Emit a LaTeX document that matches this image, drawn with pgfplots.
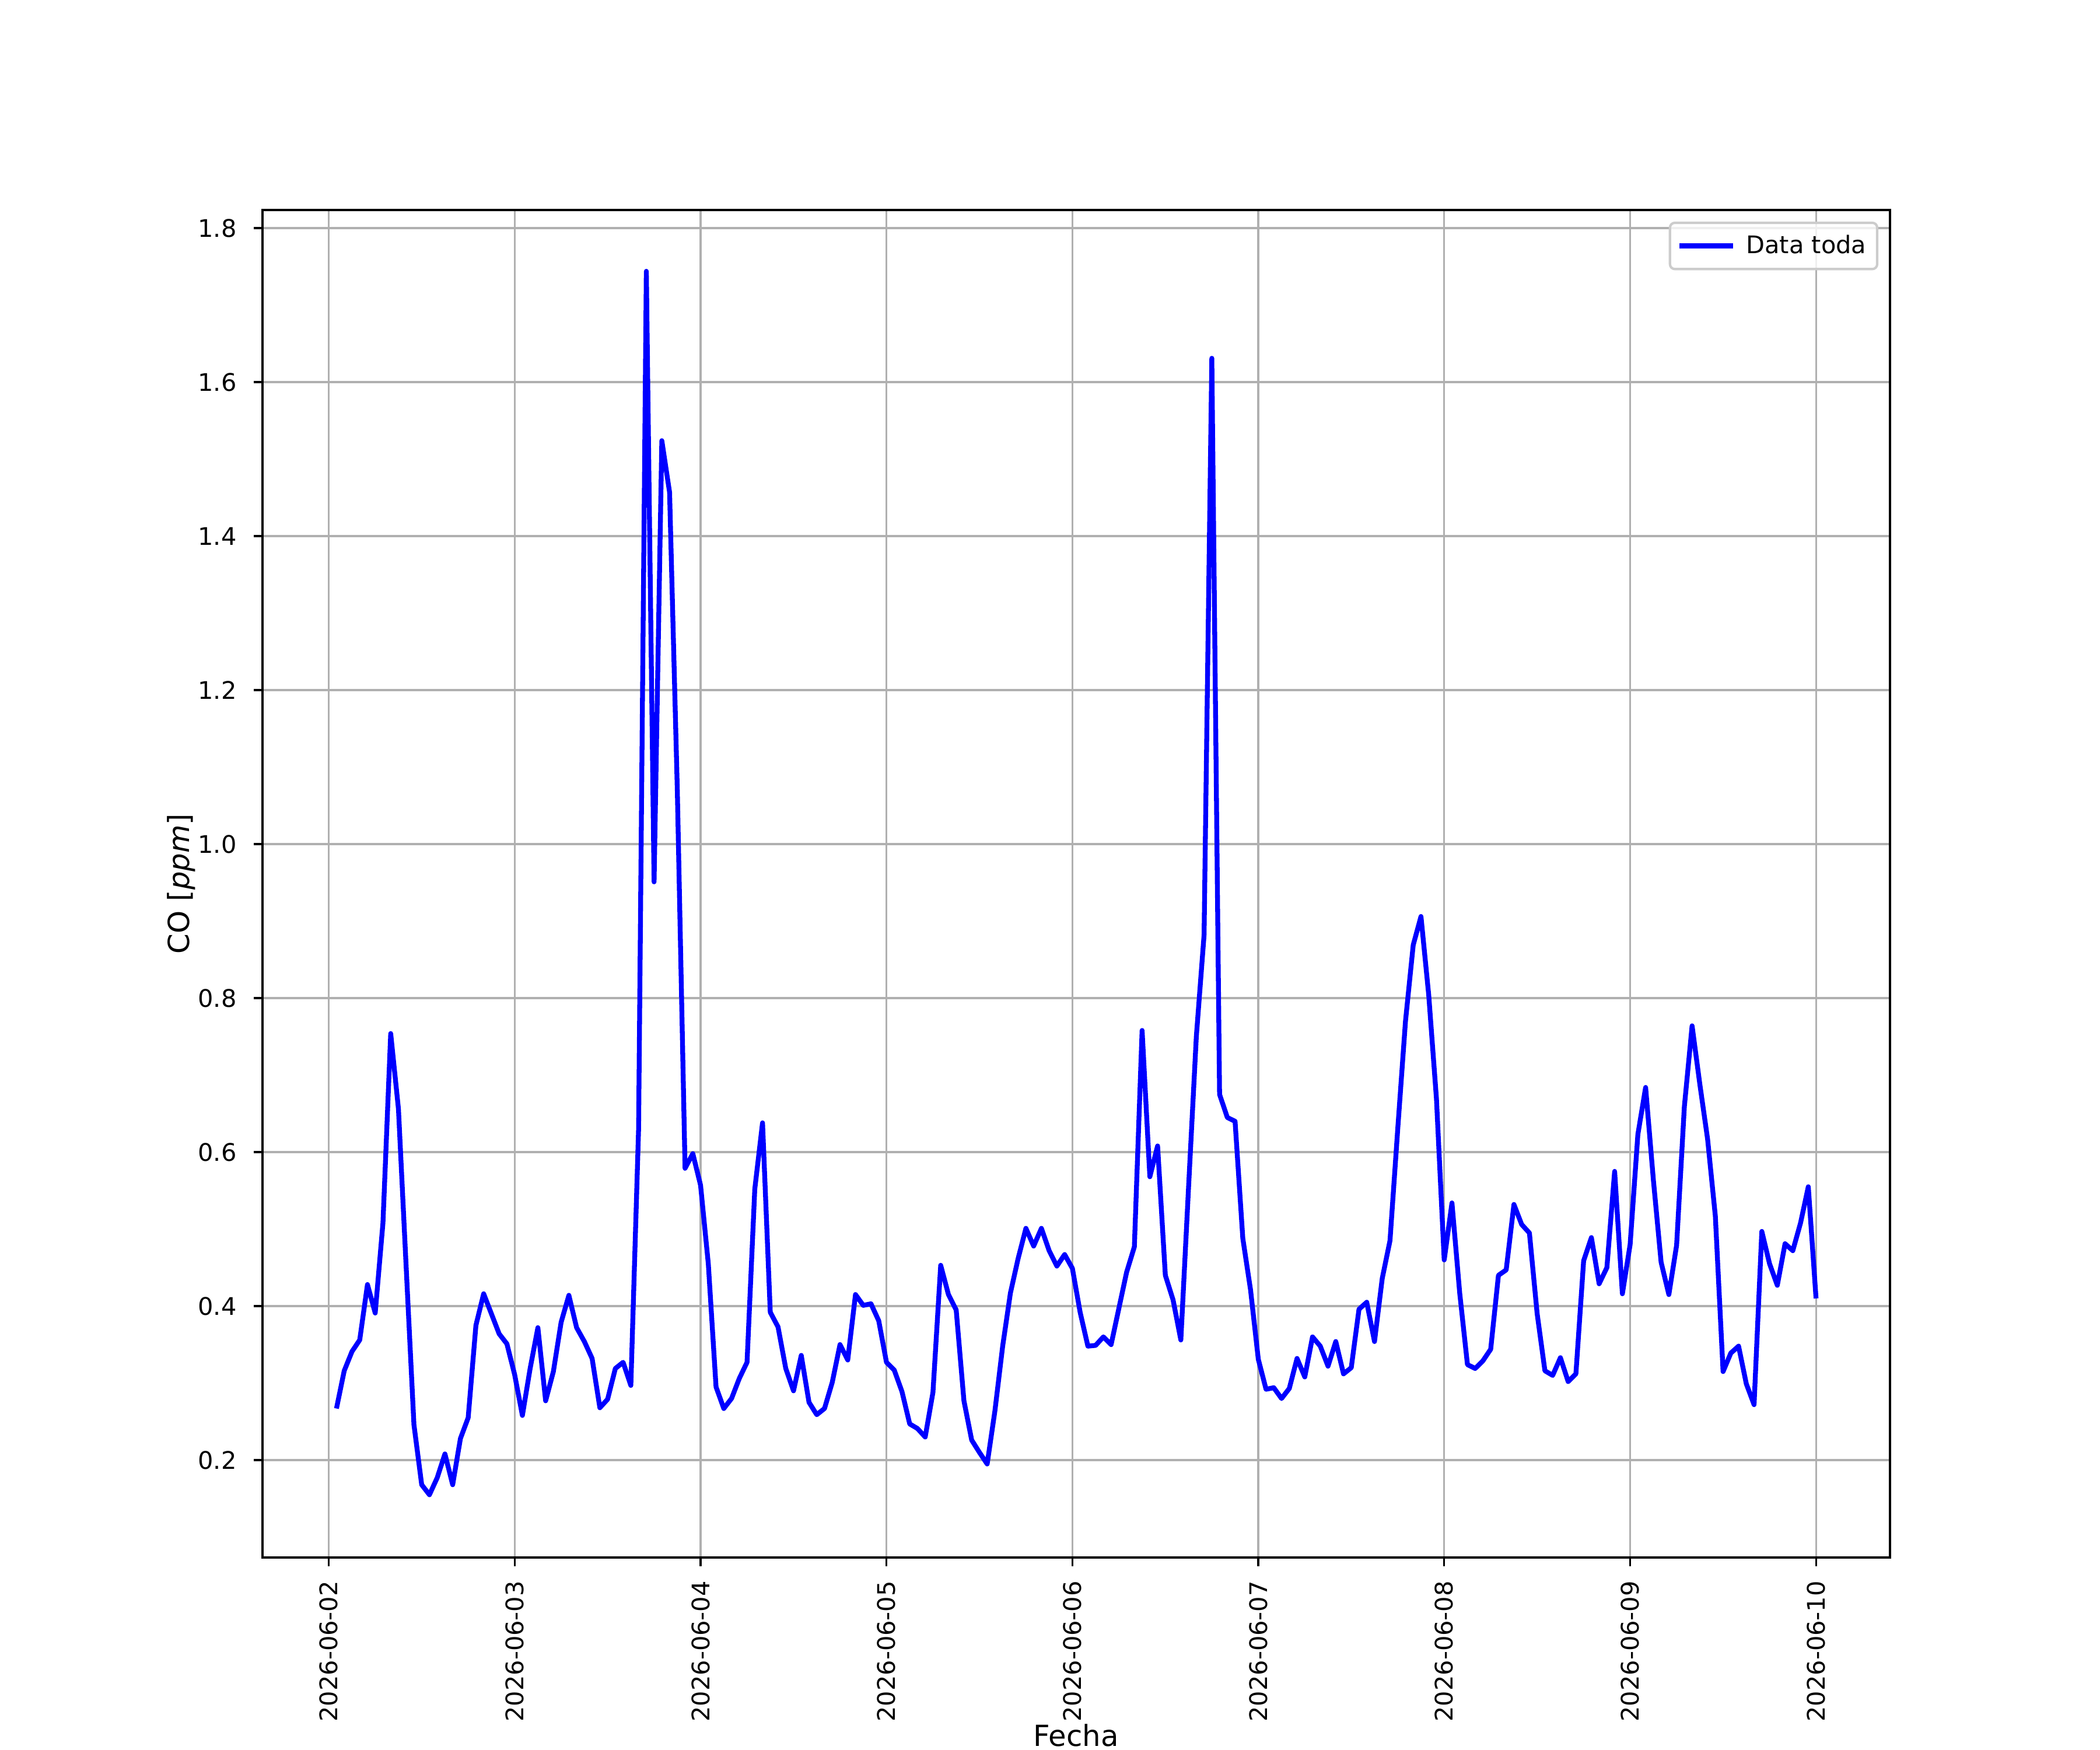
\documentclass[border=0pt]{standalone}
\usepackage{fontspec}
\setmainfont{DejaVu Sans}
\usepackage{pgfplots}
\pgfplotsset{compat=1.18}
\definecolor{gridgray}{HTML}{B0B0B0}
\definecolor{legframe}{HTML}{CCCCCC}
\begin{document}
\begin{tikzpicture}
\path[use as bounding box] (0,0) rectangle (12in,10in);
\begin{axis}[
  at={(1.5in,1.1in)}, anchor=south west,
  width=9.3in, height=7.7in, scale only axis,
  xmin=-8.55, xmax=201.55,
  ymin=0.0735, ymax=1.8236,
  xtick={0,24,48,72,96,120,144,168,192},
  xticklabels={2026-06-02,2026-06-03,2026-06-04,2026-06-05,2026-06-06,2026-06-07,2026-06-08,2026-06-09,2026-06-10},
  ytick={0.2,0.4,0.6,0.8,1.0,1.2,1.4,1.6,1.8},
  yticklabel style={/pgf/number format/fixed, /pgf/number format/fixed zerofill, /pgf/number format/precision=1, /pgf/number format/assume math mode=true, anchor=east, inner sep=0pt},
  xticklabel style={rotate=90, anchor=east, inner sep=0pt},
  xticklabel shift=6pt, yticklabel shift=7pt,
  tick align=outside,
  major tick length=3.5pt,
  every tick/.style={black, line width=0.8pt},
  axis line style={line width=0.8pt, black},
  grid=major,
  major grid style={gridgray, line width=0.8pt},
  xtick pos=bottom, ytick pos=left,
  xlabel={Fecha},
  ylabel={CO [\textit{ppm}]},
  label style={font=\fontsize{12}{14}\selectfont},
  xlabel style={at={(rel axis cs:0.5,-0.1235)}, anchor=north, inner sep=0pt},
  ylabel style={at={(rel axis cs:-0.050,0.5)}, anchor=center, rotate=0, inner sep=0pt},
  legend style={at={(1,1)}, anchor=north east, xshift=-4.8pt, yshift=-4.8pt,
    draw=legframe, line width=1pt, rounded corners=2pt, fill=white, fill opacity=0.8, text opacity=1, draw opacity=1,
    inner xsep=3pt, inner ysep=3.5pt, font=\fontsize{10}{12}\selectfont,
    nodes={inner sep=1.5pt}},
  legend image code/.code={\draw[#1, line width=2pt] (0pt,0pt) -- (22pt,0pt); \path (25pt,0pt);},
  legend cell align=left,
]
\addplot[blue, line width=2pt, line join=round] table[x=h, y=co] {
h co
1 0.267
2 0.316
3 0.341
4 0.356
5 0.428
6 0.391
7 0.508
8 0.754
9 0.656
10 0.45
11 0.246
12 0.168
13 0.155
14 0.177
15 0.208
16 0.168
17 0.228
18 0.255
19 0.375
20 0.416
21 0.390
22 0.364
23 0.351
24 0.311
25 0.258
26 0.319
27 0.372
28 0.277
29 0.315
30 0.379
31 0.414
32 0.372
33 0.354
34 0.332
35 0.268
36 0.279
37 0.319
38 0.327
39 0.297
40 0.630
41 1.744
42 0.951
43 1.524
44 1.457
45 1.07
46 0.579
47 0.598
48 0.557
49 0.455
50 0.295
51 0.267
52 0.280
53 0.306
54 0.327
55 0.552
56 0.638
57 0.392
58 0.373
59 0.319
60 0.290
61 0.336
62 0.275
63 0.259
64 0.267
65 0.301
66 0.350
67 0.330
68 0.415
69 0.401
70 0.403
71 0.381
72 0.327
73 0.317
74 0.289
75 0.247
76 0.241
77 0.230
78 0.288
79 0.453
80 0.415
81 0.395
82 0.277
83 0.226
84 0.210
85 0.195
86 0.264
87 0.348
88 0.417
89 0.462
90 0.501
91 0.478
92 0.501
93 0.472
94 0.452
95 0.467
96 0.449
97 0.392
98 0.348
99 0.349
100 0.360
101 0.350
102 0.397
103 0.444
104 0.477
105 0.758
106 0.568
107 0.608
108 0.440
109 0.408
110 0.356
111 0.555
112 0.750
113 0.882
114 1.631
115 0.675
116 0.645
117 0.640
118 0.488
119 0.421
120 0.331
121 0.292
122 0.294
123 0.280
124 0.293
125 0.332
126 0.308
127 0.360
128 0.348
129 0.322
130 0.354
131 0.312
132 0.320
133 0.396
134 0.405
135 0.354
136 0.436
137 0.485
138 0.630
139 0.770
140 0.869
141 0.906
142 0.804
143 0.669
144 0.460
145 0.534
146 0.417
147 0.324
148 0.319
149 0.329
150 0.344
151 0.440
152 0.447
153 0.532
154 0.506
155 0.495
156 0.390
157 0.316
158 0.310
159 0.333
160 0.302
161 0.312
162 0.459
163 0.489
164 0.429
165 0.450
166 0.575
167 0.416
168 0.480
169 0.623
170 0.684
171 0.564
172 0.457
173 0.415
174 0.479
175 0.659
176 0.764
177 0.688
178 0.617
179 0.517
180 0.315
181 0.339
182 0.348
183 0.299
184 0.272
185 0.497
186 0.455
187 0.427
188 0.481
189 0.472
190 0.508
191 0.555
192 0.410
};
\addlegendentry{Data toda}
\end{axis}
\end{tikzpicture}
\end{document}
